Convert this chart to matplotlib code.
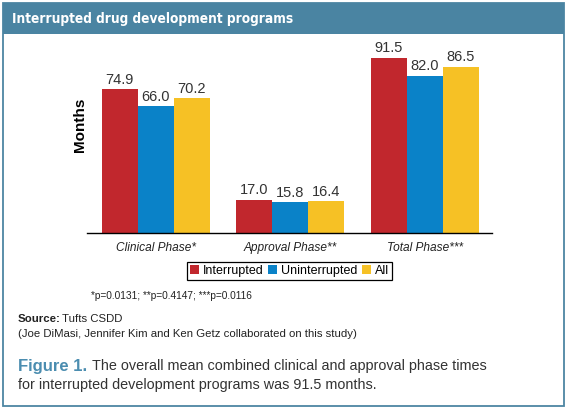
import matplotlib
matplotlib.use("Agg")
import matplotlib.pyplot as plt
from matplotlib.patches import Rectangle
import numpy as np

plt.rcParams['font.family'] = ['Liberation Sans', 'DejaVu Sans']

categories = ['Clinical Phase*', 'Approval Phase**', 'Total Phase***']
series_names = ['Interrupted', 'Uninterrupted', 'All']
interrupted = [74.9, 17.0, 91.5]
uninterrupted = [66.0, 15.8, 82.0]
all_programs = [70.2, 16.4, 86.5]
colors = ['#c1272d', '#0a82c8', '#f6c125']

W, H = 567, 412
fig = plt.figure(figsize=(W / 100, H / 100), dpi=100)


def fx(px):
    return px / W


def fy(py):
    return 1 - py / H


# frame and header band
fig.patches.append(Rectangle((fx(3), fy(406)), fx(561), (406 - 3) / H,
                             transform=fig.transFigure, fill=False,
                             edgecolor='#4d86a3', linewidth=1.3))
fig.patches.append(Rectangle((fx(3), fy(34)), fx(561), 31 / H,
                             transform=fig.transFigure, facecolor='#4a84a2',
                             edgecolor='none'))
fig.text(fx(12), fy(19), 'Interrupted drug development programs',
         family='DejaVu Sans', fontstretch='condensed', weight='bold',
         color='white', fontsize=9.8, va='center')

# axes: baseline at y=232.7 px, 100 units = 191.3 px
ax = fig.add_axes([fx(87), fy(232.7), fx(492 - 87), 191.3 / H])
x = np.arange(len(categories))
w = 0.268
data = [interrupted, uninterrupted, all_programs]
for i, (vals, name, c) in enumerate(zip(data, series_names, colors)):
    bars = ax.bar(x + (i - 1) * w, vals, w, color=c, label=name)
    ax.bar_label(bars, labels=['%.1f' % v for v in vals], padding=2,
                 fontsize=10.5, color='#333333')

ax.set_xlim(-0.513, 2.5)
ax.set_ylim(0, 100)
for s in ['top', 'left', 'right']:
    ax.spines[s].set_visible(False)
ax.spines['bottom'].set_linewidth(1.0)
ax.set_yticks([])
ax.set_xticks(x)
ax.set_xticklabels(categories, style='italic', fontsize=8.6, color='#222222')
ax.tick_params(axis='x', length=0, pad=7)

fig.text(fx(80), fy(125), 'Months', rotation=90, weight='bold',
         fontsize=11, ha='center', va='center')

leg = fig.legend(loc='center', bbox_to_anchor=(fx(289.5), fy(271)), ncol=3,
                 fontsize=9, handlelength=0.7, handleheight=0.7,
                 handletextpad=0.3, columnspacing=0.4, borderpad=0.25,
                 fancybox=False, framealpha=1)
leg.get_frame().set_edgecolor('black')
leg.get_frame().set_linewidth(0.9)

fig.text(fx(91), fy(296), '*p=0.0131; **p=0.4147; ***p=0.0116',
         fontsize=7.3, va='center', color='#222222')
fig.text(fx(18), fy(319), 'Source:', weight='bold', fontsize=8.2,
         va='center', color='#222222')
fig.text(fx(62), fy(319), 'Tufts CSDD', fontsize=8.2,
         va='center', color='#222222')
fig.text(fx(18), fy(334),
         '(Joe DiMasi, Jennifer Kim and Ken Getz collaborated on this study)',
         fontsize=8.2, va='center', color='#222222')

fig.text(fx(18), fy(366), 'Figure 1.', weight='bold', fontsize=12,
         color='#4b8db0', va='center')
fig.text(fx(92), fy(366),
         'The overall mean combined clinical and approval phase times',
         fontsize=10.4, color='#333333', va='center')
fig.text(fx(18), fy(385),
         'for interrupted development programs was 91.5 months.',
         fontsize=10.4, color='#333333', va='center')

fig.savefig('out.png', dpi=100)
